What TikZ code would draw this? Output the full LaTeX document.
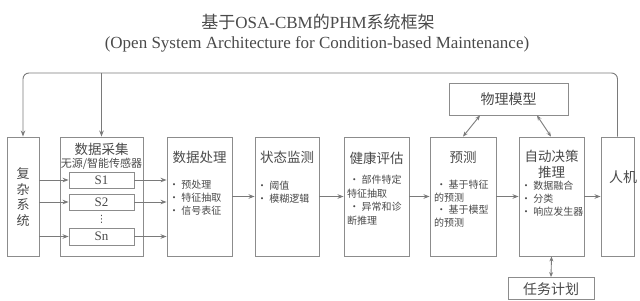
\documentclass[tikz,border=0pt]{standalone}
\usepackage{fontspec}
\setmainfont{Liberation Serif}
\newfontfamily\cjk{Noto Sans CJK SC}
\newfontfamily\dejavu{DejaVu Sans}
\usetikzlibrary{arrows.meta}
\definecolor{linec}{HTML}{7A7A7A}
\definecolor{boxc}{HTML}{8C8C8C}
\definecolor{txtc}{HTML}{4A4A4A}
\tikzset{
  box/.style={draw=boxc, line width=0.9pt, inner sep=0pt, fill=white},
  conn/.style={draw=linec, line width=0.9pt, -{Stealth[length=6pt,width=4.5pt]}},
  dconn/.style={draw=linec, line width=0.9pt, {Stealth[length=5pt,width=4pt]}-{Stealth[length=5pt,width=4pt]}},
  ttl/.style={text=txtc, font=\cjk\fontsize{13.5}{16}\selectfont, inner sep=0pt, align=center},
  blt/.style={text=txtc, font=\cjk\fontsize{10}{13}\selectfont, inner sep=0pt, align=left, anchor=north west},
  slab/.style={text=txtc, font=\fontsize{13}{15}\selectfont, inner sep=0pt},
}
\begin{document}
\begin{tikzpicture}[x=1pt,y=-1pt]
\useasboundingbox (0,0) rectangle (640,300);
% title
\node[text=txtc, font=\fontsize{17}{19}\selectfont, inner sep=0pt] (title) at (318,22)
  {{\cjk 基于}OSA-CBM{\cjk 的}PHM{\cjk 系统框架}};
\node[text=txtc, font=\fontsize{17}{19}\selectfont, inner sep=0pt] (sub) at (317,44)
  {(Open System Architecture for Condition-based Maintenance)};
% boxes
\node[box, minimum width=32pt, minimum height=119pt] (sys) at (23,196.5) {};
\node[box, minimum width=83pt, minimum height=119pt] (acq) at (101.5,196.5) {};
\node[box, minimum width=65pt, minimum height=16pt] (s1) at (101.5,180) {};
\node[box, minimum width=65pt, minimum height=16pt] (s2) at (101.5,202) {};
\node[box, minimum width=65pt, minimum height=17pt] (sn) at (101.5,236.5) {};
\node[box, minimum width=65pt, minimum height=119pt] (proc) at (199.5,196.5) {};
\node[box, minimum width=64pt, minimum height=119pt] (mon) at (287,196.5) {};
\node[box, minimum width=65pt, minimum height=119pt] (hea) at (376.5,196.5) {};
\node[box, minimum width=66pt, minimum height=119pt] (pre) at (463,196.5) {};
\node[box, minimum width=65pt, minimum height=119pt] (dec) at (551.5,196.5) {};
\node[box, minimum width=33pt, minimum height=119pt] (hmi) at (617.5,196.5) {};
\node[box, minimum width=119pt, minimum height=32pt] (phy) at (508.5,99) {};
\node[box, minimum width=86pt, minimum height=22pt] (task) at (551,288.5) {};
% texts
\node[ttl, font=\cjk\fontsize{13}{16}\selectfont] (sysT) at (23,197) {复\\[-0.5pt]杂\\[-0.5pt]系\\[-0.5pt]统};
\node[ttl] (acqT) at (101.5,149) {数据采集};
\node[ttl, font=\cjk\fontsize{11}{13}\selectfont] (acqS) at (101.5,164) {无源/智能传感器};
\node[slab] (s1T) at (s1) {S1};
\node[slab] (s2T) at (s2) {S2};
\node[slab] (snT) at (sn) {Sn};
\node[text=txtc, inner sep=0pt, font=\dejavu\fontsize{10}{10}\selectfont] (dots) at (101.5,219) {⋮};
\node[ttl] (procT) at (199.5,157) {数据处理};
\node[blt] (procB) at (169,180) {\textbullet\ 预处理\\\textbullet\ 特征抽取\\\textbullet\ 信号表征};
\node[ttl] (monT) at (287,157) {状态监测};
\node[blt] (monB) at (257,181) {\textbullet\ 阈值\\\textbullet\ 模糊逻辑};
\node[ttl] (heaT) at (376.5,158) {健康评估};
\node[blt, font=\cjk\fontsize{10}{13.5}\selectfont] (heaB) at (347,175) {\ \textbullet\ 部件特定\\特征抽取\\\ \textbullet\ 异常和诊\\断推理};
\node[ttl] (preT) at (463,157) {预测};
\node[blt, font=\cjk\fontsize{10}{12.5}\selectfont] (preB) at (434,180) {\ \textbullet\ 基于特征\\的预测\\\ \textbullet\ 基于模型\\的预测};
\node[ttl] (decT) at (551.5,164.5) {自动决策\\推理};
\node[blt] (decB) at (521,181) {\textbullet\ 数据融合\\\textbullet\ 分类\\\textbullet\ 响应发生器};
\node[ttl, font=\cjk\fontsize{14}{16}\selectfont] (hmiT) at (623,177) {人机};
\node[ttl, font=\cjk\fontsize{14}{16}\selectfont] (phyT) at (phy) {物理模型};
\node[ttl, font=\cjk\fontsize{14}{16}\selectfont] (taskT) at (551,289) {任务计划};
% connectors: system to sensors
\draw[conn] (sys.east |- s1) -- (s1.west);
\draw[conn] (sys.east |- s2) -- (s2.west);
\draw[conn] (sys.east |- sn) -- (sn.west);
\draw[conn] (s1.east) -- (proc.west |- s1);
\draw[conn] (s2.east) -- (proc.west |- s2);
\draw[conn] (sn.east) -- (proc.west |- sn);
% main chain
\draw[conn] (proc.east) -- (mon.west);
\draw[conn] (mon.east) -- (hea.west);
\draw[conn] (hea.east) -- (pre.west);
\draw[conn] (pre.east) -- (dec.west);
\draw[conn] (dec.east) -- (hmi.west);
% physical model
\draw[dconn] (phy.south -| 480,0) -- (pre.north -| 463,0);
\draw[dconn] (phy.south -| 537,0) -- (dec.north -| 551,0);
\draw[dconn] (dec.south) -- (task.north);
% feedback
\coordinate (tr) at (617.5,73);
\coordinate (tl) at (23,73);
\coordinate (tb) at (101.5,73);
\draw[conn, rounded corners=6pt] (hmi.north) -- (tr) -- (tl) -- (sys.north);
\draw[conn] (tb) -- (acq.north);
\end{tikzpicture}
\end{document}
